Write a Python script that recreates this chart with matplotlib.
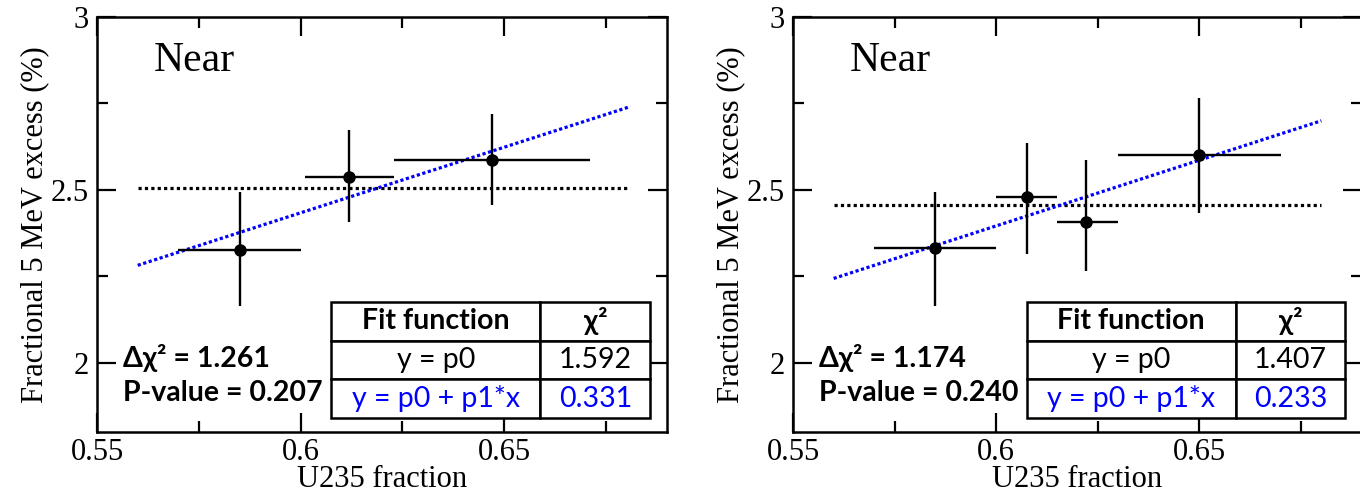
import matplotlib
matplotlib.use("Agg")
import matplotlib.pyplot as plt
from matplotlib.ticker import FixedLocator, FixedFormatter

SERIF = ["Liberation Serif", "DejaVu Serif"]
SANS = ["Lato", "DejaVu Sans"]

# left panel: three U235 fraction bins
left_x = [0.585, 0.612, 0.647]
left_xlo = [0.570, 0.601, 0.623]
left_xhi = [0.600, 0.623, 0.671]
left_y = [2.326, 2.538, 2.587]
left_ylo = [2.163, 2.407, 2.456]
left_yhi = [2.494, 2.674, 2.720]
left_const = 2.506
left_line_x = [0.560, 0.681]
left_line_y = [2.282, 2.741]
left_chi2 = ["1.592", "0.331"]
left_delta = "1.261"
left_pvalue = "0.207"

# right panel: four bins
right_x = [0.585, 0.6075, 0.622, 0.650]
right_xlo = [0.570, 0.600, 0.615, 0.630]
right_xhi = [0.600, 0.615, 0.630, 0.670]
right_y = [2.331, 2.480, 2.407, 2.600]
right_ylo = [2.163, 2.314, 2.265, 2.433]
right_yhi = [2.494, 2.637, 2.587, 2.767]
right_const = 2.456
right_line_x = [0.560, 0.680]
right_line_y = [2.244, 2.700]
right_chi2 = ["1.407", "0.233"]
right_delta = "1.174"
right_pvalue = "0.240"

fit_names = ["y = p0", "y = p0 + p1*x"]
x_ticks = [0.55, 0.60, 0.65]
x_labels = ["0.55", "0.6", "0.65"]
y_ticks = [2.0, 2.5, 3.0]
y_labels = ["2", "2.5", "3"]


def draw_panel(ax, x, xlo, xhi, y, ylo, yhi, const, lx, ly, chi2, delta, pval):
    xerr = [[a - b for a, b in zip(x, xlo)], [b - a for a, b in zip(x, xhi)]]
    yerr = [[a - b for a, b in zip(y, ylo)], [b - a for a, b in zip(y, yhi)]]
    ax.plot(lx, [const, const], color="black", linestyle=(0, (1, 1)), linewidth=2.3)
    ax.plot(lx, ly, color="blue", linestyle=(0, (1, 0.8)), linewidth=2.3)
    ax.errorbar(x, y, xerr=xerr, yerr=yerr, fmt="o", color="black", markersize=8,
                elinewidth=1.7, capsize=0, zorder=5)

    ax.set_xlim(0.55, 0.69)
    ax.set_ylim(1.8, 3.0)
    ax.xaxis.set_major_locator(FixedLocator(x_ticks))
    ax.xaxis.set_major_formatter(FixedFormatter(x_labels))
    ax.xaxis.set_minor_locator(FixedLocator([0.575, 0.625, 0.675]))
    ax.yaxis.set_major_locator(FixedLocator(y_ticks))
    ax.yaxis.set_major_formatter(FixedFormatter(y_labels))
    ax.yaxis.set_minor_locator(FixedLocator([2.25, 2.75]))
    ax.tick_params(which="both", direction="in", top=True, right=True, width=1.6)
    ax.tick_params(which="major", length=14, labelsize=22, pad=6)
    ax.tick_params(axis="x", which="major", pad=4)
    ax.tick_params(which="minor", length=8)
    for lab in ax.get_xticklabels() + ax.get_yticklabels():
        lab.set_family(SERIF)
    for sp in ax.spines.values():
        sp.set_linewidth(1.8)

    ax.set_xlabel("U235 fraction", family=SERIF, fontsize=22, labelpad=-1)
    ax.set_ylabel("Fractional 5 MeV excess (%)", family=SERIF, fontsize=22, labelpad=1)
    ax.text(0.10, 0.895, "Near", transform=ax.transAxes, family=SERIF, fontsize=30,
            va="center", ha="left")
    ax.text(0.045, 0.178, "\u0394\u03c7\u00b2 = " + delta, transform=ax.transAxes,
            family=SANS, fontsize=20.5, fontweight="bold", va="center", ha="left")
    ax.text(0.045, 0.094, "P-value = " + pval, transform=ax.transAxes,
            family=SANS, fontsize=20.5, fontweight="bold", va="center", ha="left")

    cells = [["Fit function", "\u03c7\u00b2"],
             [fit_names[0], chi2[0]],
             [fit_names[1], chi2[1]]]
    tab = ax.table(cellText=cells, bbox=[0.411, 0.034, 0.56, 0.279],
                   colWidths=[0.655, 0.345], cellLoc="center")
    tab.auto_set_font_size(False)
    for (r, c), cell in tab.get_celld().items():
        cell.set_linewidth(1.8)
        cell.set_facecolor("white")
        t = cell.get_text()
        t.set_family(SANS)
        t.set_fontsize(20.5)
        if r == 0:
            t.set_fontweight("bold")
        if r == 2:
            t.set_color("blue")
    tab.set_zorder(6)


fig = plt.figure(figsize=(13.6, 4.98), dpi=100)
ax1 = fig.add_axes([97 / 1360, 1 - 432 / 498, 570 / 1360, 415 / 498])
ax2 = fig.add_axes([793 / 1360, 1 - 432 / 498, 569 / 1360, 415 / 498])

draw_panel(ax1, left_x, left_xlo, left_xhi, left_y, left_ylo, left_yhi, left_const,
           left_line_x, left_line_y, left_chi2, left_delta, left_pvalue)
draw_panel(ax2, right_x, right_xlo, right_xhi, right_y, right_ylo, right_yhi, right_const,
           right_line_x, right_line_y, right_chi2, right_delta, right_pvalue)

fig.savefig("out.png", dpi=100)
